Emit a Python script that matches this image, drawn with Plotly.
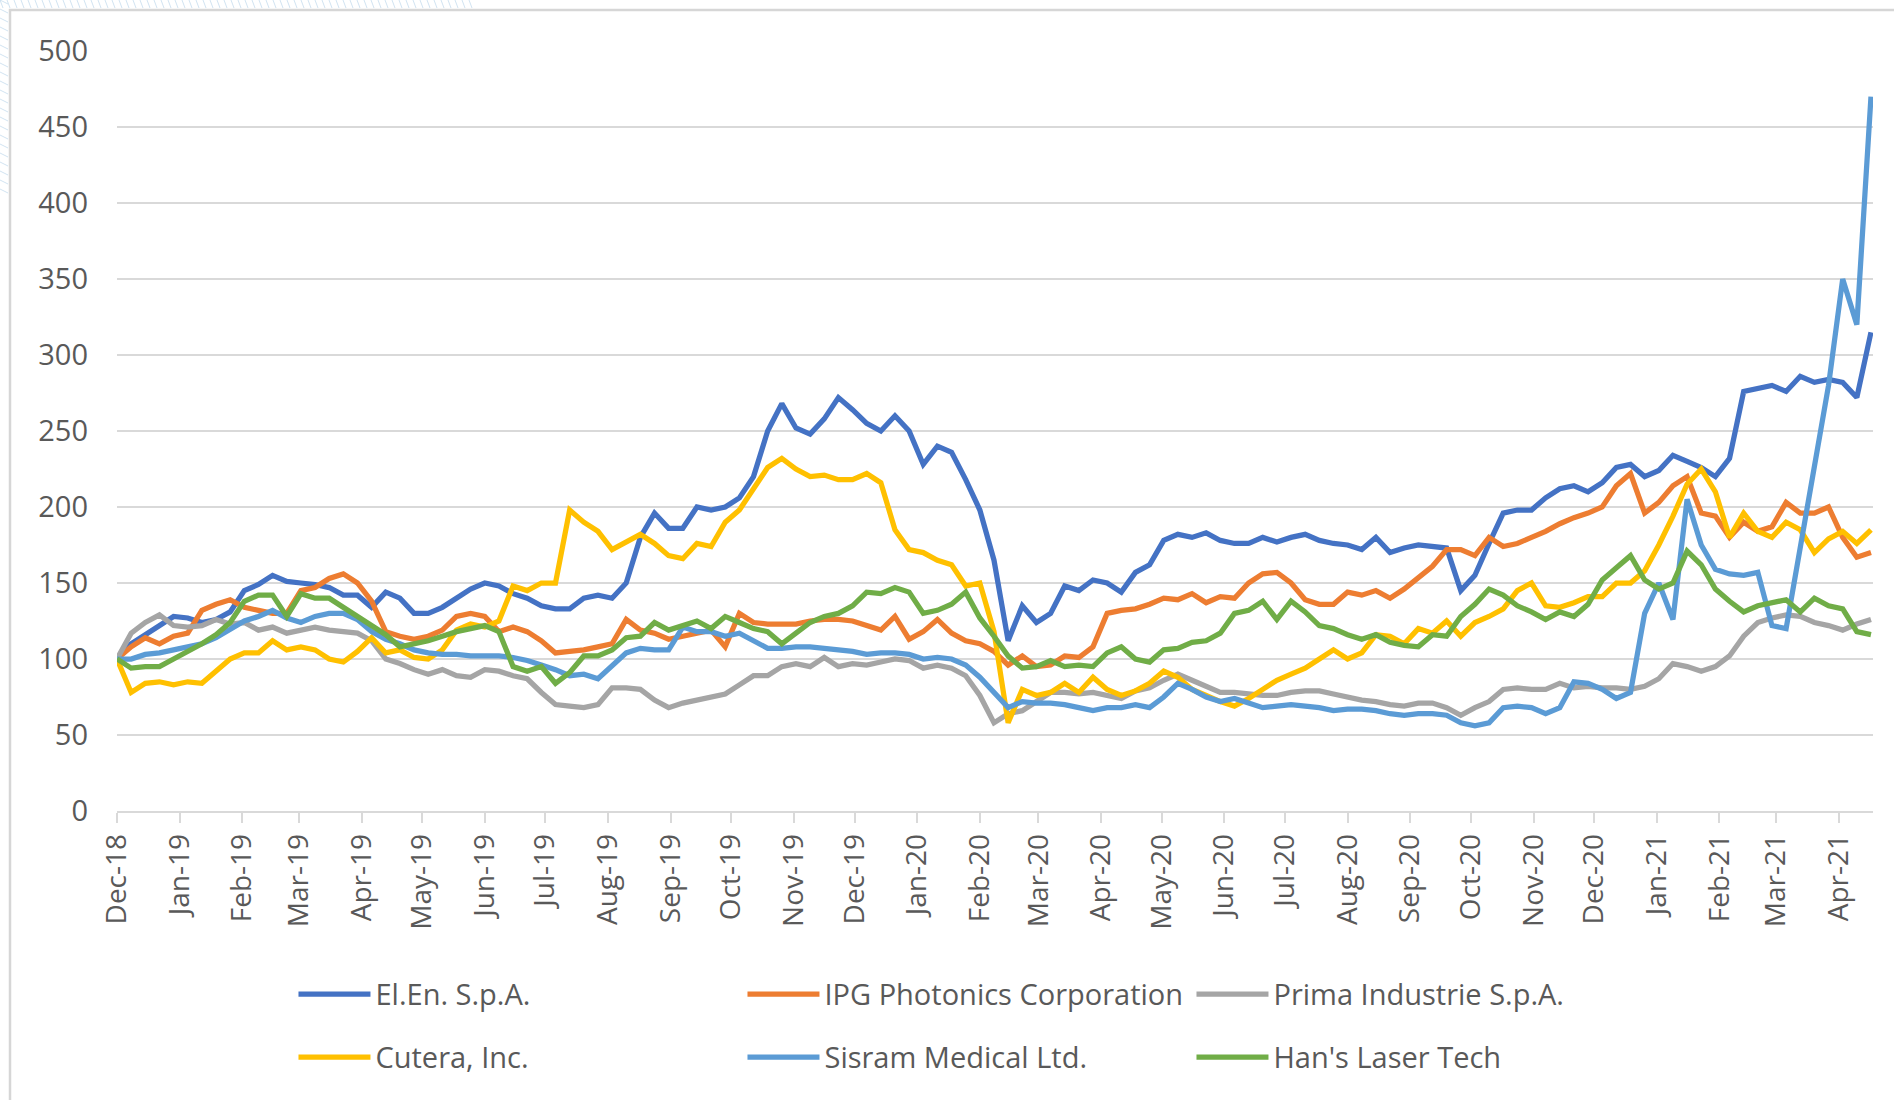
import pandas as pd
import plotly.graph_objects as go

# weekly observation dates (Mondays)
dates = pd.date_range("2018-12-03", periods=125, freq="7D")

series_names = ["El.En. S.p.A.", "IPG Photonics Corporation", "Prima Industrie S.p.A.",
                "Cutera, Inc.", "Sisram Medical Ltd.", "Han's Laser Tech"]
series_colors = ["#4472C4", "#ED7D31", "#A5A5A5", "#FFC000", "#5B9BD5", "#70AD47"]

elen = [100, 110, 116, 122, 128, 127, 124, 126, 131, 145,
        149, 155, 151, 150, 149, 147, 142, 142, 134, 144,
        140, 130, 130, 134, 140, 146, 150, 148, 143, 140,
        135, 133, 133, 140, 142, 140, 150, 180, 196, 186,
        186, 200, 198, 200, 206, 220, 250, 268, 252, 248,
        258, 272, 264, 255, 250, 260, 250, 228, 240, 236,
        218, 198, 165, 112, 135, 124, 130, 148, 145, 152,
        150, 144, 157, 162, 178, 182, 180, 183, 178, 176,
        176, 180, 177, 180, 182, 178, 176, 175, 172, 180,
        170, 173, 175, 174, 173, 145, 155, 176, 196, 198,
        198, 206, 212, 214, 210, 216, 226, 228, 220, 224,
        234, 230, 226, 220, 232, 276, 278, 280, 276, 286,
        282, 284, 282, 272, 315]

ipg = [100, 108, 114, 110, 115, 117, 132, 136, 139, 134,
       132, 130, 130, 145, 147, 153, 156, 150, 138, 118,
       115, 113, 115, 119, 128, 130, 128, 118, 121, 118,
       112, 104, 105, 106, 108, 110, 126, 119, 117, 113,
       115, 117, 119, 108, 130, 124, 123, 123, 123, 125,
       126, 126, 125, 122, 119, 128, 113, 118, 126, 117,
       112, 110, 105, 96, 102, 95, 96, 102, 101, 108,
       130, 132, 133, 136, 140, 139, 143, 137, 141, 140,
       150, 156, 157, 150, 139, 136, 136, 144, 142, 145,
       140, 146, 154, 161, 172, 172, 168, 180, 174, 176,
       180, 184, 189, 193, 196, 200, 214, 222, 196, 203,
       214, 220, 196, 194, 180, 190, 184, 187, 203, 196,
       196, 200, 180, 167, 170]

prima = [100, 117, 124, 129, 122, 121, 122, 126, 123, 124,
         119, 121, 117, 119, 121, 119, 118, 117, 112, 100,
         97, 93, 90, 93, 89, 88, 93, 92, 89, 87,
         78, 70, 69, 68, 70, 81, 81, 80, 73, 68,
         71, 73, 75, 77, 83, 89, 89, 95, 97, 95,
         101, 95, 97, 96, 98, 100, 99, 94, 96, 94,
         89, 76, 58, 64, 66, 72, 78, 78, 77, 78,
         76, 74, 79, 81, 86, 90, 86, 82, 78, 78,
         77, 76, 76, 78, 79, 79, 77, 75, 73, 72,
         70, 69, 71, 71, 68, 63, 68, 72, 80, 81,
         80, 80, 84, 81, 82, 81, 81, 80, 82, 87,
         97, 95, 92, 95, 102, 115, 124, 127, 129, 128,
         124, 122, 119, 123, 126]

cutera = [100, 78, 84, 85, 83, 85, 84, 92, 100, 104,
          104, 112, 106, 108, 106, 100, 98, 105, 114, 104,
          106, 101, 100, 106, 119, 123, 121, 125, 148, 145,
          150, 150, 198, 190, 184, 172, 177, 182, 176, 168,
          166, 176, 174, 190, 198, 212, 226, 232, 225, 220,
          221, 218, 218, 222, 216, 185, 172, 170, 165, 162,
          148, 150, 118, 58, 80, 76, 78, 84, 78, 88,
          80, 76, 79, 84, 92, 88, 80, 76, 72, 69,
          74, 80, 86, 90, 94, 100, 106, 100, 104, 116,
          115, 110, 120, 117, 125, 115, 124, 128, 133, 145,
          150, 135, 134, 137, 141, 141, 150, 150, 158, 175,
          194, 215, 225, 210, 180, 196, 184, 180, 190, 185,
          170, 179, 184, 176, 185]

sisram = [100, 100, 103, 104, 106, 108, 110, 114, 120, 125,
          128, 132, 127, 124, 128, 130, 130, 126, 118, 113,
          110, 106, 104, 103, 103, 102, 102, 102, 101, 99,
          96, 93, 89, 90, 87, 95, 104, 107, 106, 106,
          121, 118, 118, 115, 117, 112, 107, 107, 108, 108,
          107, 106, 105, 103, 104, 104, 103, 100, 101, 100,
          96, 88, 78, 68, 72, 71, 71, 70, 68, 66,
          68, 68, 70, 68, 75, 84, 80, 75, 72, 74,
          71, 68, 69, 70, 69, 68, 66, 67, 67, 66,
          64, 63, 64, 64, 63, 58, 56, 58, 68, 69,
          68, 64, 68, 85, 84, 80, 74, 78, 130, 150,
          126, 205, 175, 159, 156, 155, 157, 122, 120, 175,
          225, 280, 350, 320, 470]

hans = [100, 94, 95, 95, 100, 105, 110, 116, 124, 138,
        142, 142, 128, 143, 140, 140, 134, 129, 122, 116,
        108, 110, 112, 115, 118, 120, 122, 118, 95, 92,
        95, 84, 91, 102, 102, 106, 114, 115, 124, 119,
        122, 125, 120, 128, 124, 120, 118, 110, 117, 124,
        128, 130, 135, 144, 143, 147, 144, 130, 132, 136,
        144, 127, 115, 102, 94, 95, 99, 95, 96, 95,
        104, 108, 100, 98, 106, 107, 111, 112, 117, 130,
        132, 138, 126, 138, 131, 122, 120, 116, 113, 116,
        111, 109, 108, 116, 115, 128, 136, 146, 142, 135,
        131, 126, 131, 128, 136, 152, 160, 168, 152, 146,
        150, 171, 162, 146, 138, 131, 135, 137, 139, 131,
        140, 135, 133, 118, 116]

all_series = [elen, ipg, prima, cutera, sisram, hans]
for s in all_series:
    assert len(s) == len(dates), len(s)

tick_dates = pd.date_range("2018-12-03", "2021-04-03", freq=pd.DateOffset(months=1))

TXT = "#595959"
GRID = "#D9D9D9"
FONT = "Open Sans"

fig = go.Figure()
for k, (name, col, vals) in enumerate(zip(series_names, series_colors, all_series)):
    fig.add_trace(go.Scatter(
        x=dates, y=vals, name=name, mode="lines",
        line=dict(color=col, width=5.25),
        legend="legend" if k < 3 else "legend2",
    ))

legend_common = dict(
    orientation="h", xanchor="left", yanchor="middle",
    font=dict(family=FONT, size=29, color=TXT),
    itemwidth=72, entrywidth=362, entrywidthmode="pixels",
    bgcolor="rgba(0,0,0,0)", borderwidth=0, traceorder="normal",
)

fig.update_layout(
    width=1894, height=1100,
    margin=dict(l=117, r=21, t=51, b=289),
    paper_bgcolor="white", plot_bgcolor="white",
    font=dict(family=FONT, size=29, color=TXT),
    showlegend=True,
    legend=dict(legend_common, x=0.1005, y=-0.241),
    legend2=dict(legend_common, x=0.1005, y=-0.324),
    xaxis=dict(
        type="date", range=[dates[0], dates[-1] + pd.Timedelta(days=1)],
        tickvals=tick_dates, tickformat="%b-%y", tickangle=-90,
        ticks="outside", ticklen=10, tickwidth=1.5, tickcolor=GRID,
        showline=True, linecolor=GRID, linewidth=1.5,
        showgrid=False, zeroline=False,
        tickfont=dict(family=FONT, size=28, color=TXT),
    ),
    yaxis=dict(
        range=[0, 500], dtick=50, tick0=0,
        showgrid=True, gridcolor=GRID, gridwidth=1.5,
        showline=False, zeroline=False, ticks="",
        ticklabelstandoff=28,
        tickfont=dict(family=FONT, size=29, color=TXT),
    ),
)

# chart-area border
pl, pr, pt, pb = 117, 1873, 51, 811
def px_x(x):
    return (x - pl) / (pr - pl)
def px_y(y):
    return (pb - y) / (pb - pt)

fig.add_shape(type="rect", xref="paper", yref="paper",
              x0=px_x(10), x1=px_x(1905), y0=px_y(10), y1=px_y(1110),
              line=dict(color="#D6D6D6", width=2.5), fillcolor="rgba(0,0,0,0)", layer="below")

# faint slide-background stripes outside the chart box (top-left)
for xs in range(0, 470, 7):
    fig.add_shape(type="line", xref="paper", yref="paper",
                  x0=px_x(xs), x1=px_x(xs + 3), y0=px_y(0), y1=px_y(8),
                  line=dict(color="rgba(190,215,235,0.7)", width=1))
for ys in range(0, 190, 9):
    fig.add_shape(type="line", xref="paper", yref="paper",
                  x0=px_x(0), x1=px_x(8), y0=px_y(ys), y1=px_y(ys + 4),
                  line=dict(color="rgba(190,215,235,0.7)", width=1))

fig.write_html("out.html", config={"displayModeBar": False},
               post_script="document.body.style.margin='0';")
